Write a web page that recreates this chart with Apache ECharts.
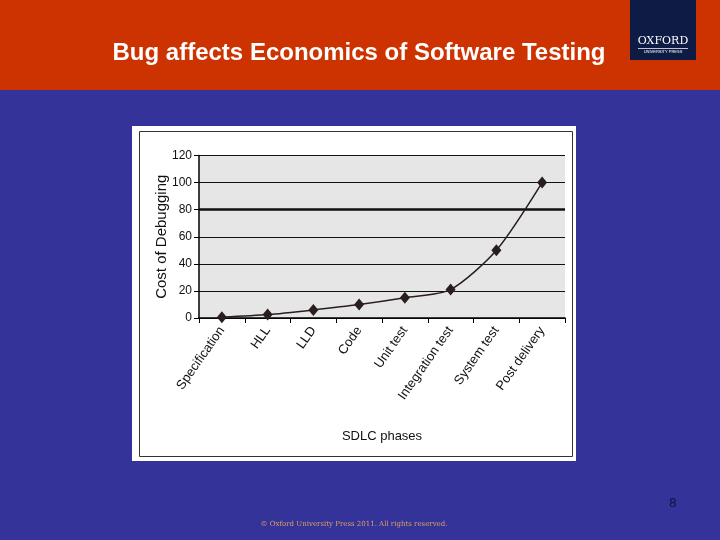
<!DOCTYPE html>
<html>
<head>
<meta charset="utf-8">
<script src="https://cdn.jsdelivr.net/npm/echarts@6/dist/echarts.min.js"></script>
<style>html,body{margin:0;padding:0;background:#333399;}#c{width:720px;height:540px;}</style>
</head>
<body>
<div id="c"></div>
<script>
var phases = ['Specification', 'HLL', 'LLD', 'Code', 'Unit test', 'Integration test', 'System test', 'Post delivery'];
var cost = [0.5, 2.5, 6, 10, 15, 21, 50, 100];
var yTicks = [0, 20, 40, 60, 80, 100, 120];
var titleText = 'Bug affects Economics of Software Testing';
var yName = 'Cost of Debugging';
var xName = 'SDLC phases';
var pageNo = '8';
var copyright = '© Oxford University Press 2011. All rights reserved.';

var narrow = "'Liberation Sans Narrow','Arial Narrow','Liberation Sans',Arial,sans-serif";
var chart = echarts.init(document.getElementById('c'), null, {renderer: 'canvas'});
chart.setOption({
  backgroundColor: '#333399',
  animation: false,
  graphic: [
    {type: 'rect', z: -10, shape: {x: 0, y: 0, width: 720, height: 90}, style: {fill: '#cc3300'}},
    {type: 'rect', z: -9, shape: {x: 630, y: 0, width: 66, height: 60}, style: {fill: '#0d1b45'}},
    {type: 'text', z: -8, style: {x: 663, y: 41, text: 'OXFORD', fill: '#ffffff', font: '11px "DejaVu Serif", serif', textAlign: 'center', textVerticalAlign: 'middle'}},
    {type: 'rect', z: -8, shape: {x: 638, y: 48, width: 50, height: 0.8}, style: {fill: '#ffffff'}},
    {type: 'text', z: -8, style: {x: 663, y: 52, text: 'UNIVERSITY PRESS', fill: '#ffffff', font: '4px sans-serif', textAlign: 'center', textVerticalAlign: 'middle'}},
    {type: 'text', z: -8, style: {x: 359, y: 53, text: titleText, fill: '#ffffff', font: 'bold 24px "Liberation Sans", Arial, sans-serif', textAlign: 'center', textVerticalAlign: 'middle'}},
    {type: 'rect', z: -7, shape: {x: 132, y: 126, width: 444, height: 335}, style: {fill: '#ffffff'}},
    {type: 'rect', z: -6, shape: {x: 139.5, y: 131.5, width: 433, height: 325}, style: {fill: 'none', stroke: '#333333', lineWidth: 1}},
    {type: 'text', z: -6, style: {x: 673, y: 504, text: pageNo, fill: '#141445', font: '13px "DejaVu Sans", sans-serif', textAlign: 'center', textVerticalAlign: 'middle'}},
    {type: 'text', z: -6, style: {x: 354, y: 524, text: copyright, fill: '#e0a060', font: '7px "DejaVu Serif", serif', textAlign: 'center', textVerticalAlign: 'middle'}}
  ],
  grid: {left: 199, right: 155, top: 155.5, bottom: 222, show: true, backgroundColor: '#e6e6e6', borderWidth: 0},
  xAxis: {
    type: 'category',
    data: phases,
    boundaryGap: true,
    name: xName,
    nameLocation: 'middle',
    nameGap: 112,
    nameMoveOverlap: false,
    nameTextStyle: {color: '#111', fontSize: 13, fontFamily: narrow},
    axisLine: {lineStyle: {color: '#000', width: 1.5}},
    axisTick: {show: true, length: 5, lineStyle: {color: '#000'}},
    axisLabel: {rotate: 55, color: '#111', fontSize: 13, fontFamily: narrow, margin: 10},
    splitLine: {show: false}
  },
  yAxis: {
    type: 'value',
    min: 0, max: 120, interval: 20,
    name: yName,
    nameLocation: 'middle',
    nameGap: 30,
    nameMoveOverlap: false,
    nameTextStyle: {color: '#111', fontSize: 15, fontFamily: narrow},
    axisLine: {show: true, lineStyle: {color: '#000', width: 1.5}},
    axisTick: {show: true, length: 5, lineStyle: {color: '#000'}},
    axisLabel: {color: '#111', fontSize: 12, fontFamily: narrow, margin: 7,
      formatter: function (v) { return yTicks.indexOf(v) >= 0 ? String(v) : ''; }},
    splitLine: {show: true, lineStyle: {color: '#111', width: 1}}
  },
  series: [{
    type: 'line',
    data: cost,
    smooth: 0.25,
    symbol: 'diamond',
    symbolSize: [10, 12],
    itemStyle: {color: '#2a1d1d'},
    lineStyle: {color: '#2a1d1d', width: 1.5},
    markLine: {silent: true, symbol: 'none', label: {show: false},
      lineStyle: {color: '#111', width: 2.5, type: 'solid'},
      data: [{yAxis: 80}]},
    z: 5
  }]
});
</script>
</body>
</html>
